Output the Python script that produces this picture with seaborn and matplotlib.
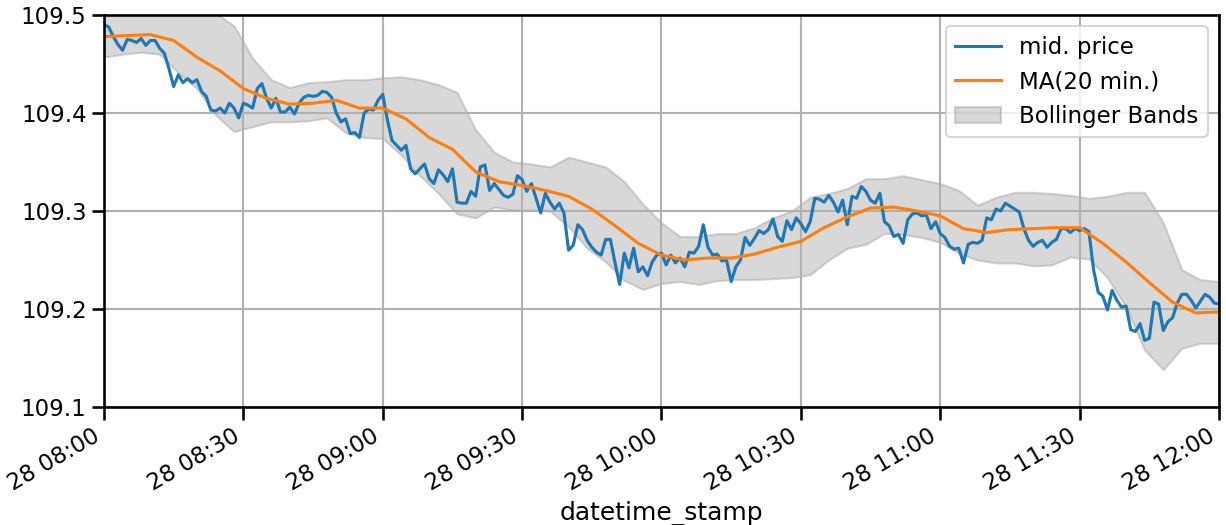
import numpy as np
import pandas as pd
import matplotlib
matplotlib.use("Agg")
import matplotlib.pyplot as plt
import matplotlib.dates as mdates
import seaborn as sns

# ---- data (1-minute mid prices) ----
start = "2020-02-28 08:00"

mid_price = [
    109.490, 109.488, 109.478, 109.470, 109.464, 109.475, 109.474, 109.472, 109.476, 109.469,
    109.474, 109.474, 109.466, 109.461, 109.445, 109.427, 109.439, 109.431, 109.435, 109.431,
    109.434, 109.422, 109.417, 109.403, 109.402, 109.405, 109.400, 109.410, 109.405, 109.395,
    109.410, 109.408, 109.405, 109.425, 109.430, 109.415, 109.405, 109.415, 109.401, 109.401,
    109.406, 109.399, 109.410, 109.416, 109.418, 109.417, 109.418, 109.422, 109.421, 109.416,
    109.400, 109.391, 109.394, 109.379, 109.380, 109.375, 109.400, 109.404, 109.403, 109.413,
    109.419, 109.393, 109.372, 109.367, 109.362, 109.367, 109.343, 109.338, 109.343, 109.348,
    109.333, 109.328, 109.342, 109.337, 109.330, 109.343, 109.309, 109.308, 109.308, 109.320,
    109.315, 109.345, 109.347, 109.321, 109.328, 109.322, 109.316, 109.314, 109.317, 109.336,
    109.332, 109.320, 109.328, 109.313, 109.298, 109.318, 109.309, 109.302, 109.308, 109.298,
    109.260, 109.265, 109.286, 109.281, 109.270, 109.263, 109.258, 109.255, 109.271, 109.271,
    109.247, 109.225, 109.257, 109.242, 109.262, 109.238, 109.243, 109.234, 109.248, 109.255,
    109.257, 109.245, 109.255, 109.247, 109.252, 109.243, 109.258, 109.257, 109.264, 109.286,
    109.263, 109.255, 109.256, 109.249, 109.250, 109.228, 109.243, 109.250, 109.273, 109.265,
    109.272, 109.280, 109.277, 109.281, 109.292, 109.274, 109.269, 109.290, 109.281, 109.293,
    109.287, 109.279, 109.289, 109.313, 109.312, 109.309, 109.316, 109.309, 109.299, 109.311,
    109.286, 109.315, 109.313, 109.325, 109.320, 109.311, 109.308, 109.318, 109.289, 109.285,
    109.274, 109.276, 109.267, 109.291, 109.297, 109.298, 109.295, 109.296, 109.282, 109.289,
    109.277, 109.273, 109.264, 109.261, 109.262, 109.247, 109.266, 109.268, 109.267, 109.270,
    109.293, 109.291, 109.302, 109.300, 109.308, 109.305, 109.302, 109.299, 109.282, 109.270,
    109.264, 109.268, 109.270, 109.263, 109.268, 109.271, 109.282, 109.282, 109.278, 109.282,
    109.280, 109.282, 109.279, 109.240, 109.217, 109.213, 109.199, 109.219, 109.209, 109.202,
    109.203, 109.179, 109.177, 109.185, 109.168, 109.170, 109.207, 109.205, 109.178, 109.187,
    109.191, 109.206, 109.215, 109.215, 109.209, 109.201, 109.208, 109.215, 109.212, 109.206,
    109.205,
]

# 20-min moving average, read every 5 minutes
ma_20 = [
    109.478, 109.479, 109.480, 109.474, 109.457, 109.443, 109.425, 109.415, 109.409, 109.410,
    109.413, 109.405, 109.405, 109.394, 109.375, 109.363, 109.340, 109.330, 109.326, 109.321,
    109.315, 109.302, 109.285, 109.267, 109.255, 109.250, 109.252, 109.252, 109.256, 109.263,
    109.269, 109.283, 109.294, 109.303, 109.304, 109.300, 109.295, 109.282, 109.278, 109.281,
    109.282, 109.283, 109.283, 109.267, 109.248, 109.227, 109.207, 109.196, 109.197,
]

# Bollinger bands, read every 4 minutes
bb_upper = [
    109.510, 109.510, 109.512, 109.512, 109.510, 109.508, 109.502, 109.489, 109.456, 109.434,
    109.426, 109.431, 109.432, 109.434, 109.434, 109.436, 109.437, 109.434, 109.429, 109.421,
    109.383, 109.360, 109.350, 109.348, 109.345, 109.355, 109.350, 109.345, 109.330, 109.307,
    109.288, 109.274, 109.274, 109.277, 109.277, 109.283, 109.293, 109.300, 109.314, 109.318,
    109.323, 109.333, 109.333, 109.336, 109.332, 109.328, 109.321, 109.306, 109.314, 109.319,
    109.319, 109.318, 109.316, 109.313, 109.315, 109.319, 109.319, 109.288, 109.240, 109.230,
    109.228,
]
bb_lower = [
    109.457, 109.460, 109.462, 109.460, 109.441, 109.425, 109.398, 109.381, 109.386, 109.391,
    109.391, 109.392, 109.395, 109.380, 109.375, 109.374, 109.357, 109.336, 109.318, 109.297,
    109.293, 109.304, 109.301, 109.301, 109.300, 109.284, 109.262, 109.248, 109.229, 109.220,
    109.226, 109.228, 109.225, 109.229, 109.230, 109.230, 109.231, 109.232, 109.235, 109.250,
    109.262, 109.266, 109.277, 109.276, 109.273, 109.268, 109.257, 109.250, 109.247, 109.247,
    109.244, 109.245, 109.253, 109.251, 109.232, 109.202, 109.158, 109.138, 109.160, 109.165,
    109.165,
]

price_df = pd.DataFrame({
    "datetime_stamp": pd.date_range(start, periods=len(mid_price), freq="1min"),
    "mid": mid_price,
})
ma_df = pd.DataFrame({
    "datetime_stamp": pd.date_range(start, periods=len(ma_20), freq="5min"),
    "ma": ma_20,
})
bb_df = pd.DataFrame({
    "datetime_stamp": pd.date_range(start, periods=len(bb_upper), freq="4min"),
    "upper": bb_upper,
    "lower": bb_lower,
})

sns.set_context("talk")

fig, ax = plt.subplots(figsize=(12.26, 5.25), dpi=100)
fig.subplots_adjust(left=0.0848, right=0.9943, top=0.9714, bottom=0.2248)

sns.lineplot(data=price_df, x="datetime_stamp", y="mid", ax=ax,
             color="#1f77b4", label="mid. price")
sns.lineplot(data=ma_df, x="datetime_stamp", y="ma", ax=ax,
             color="#ff7f0e", label="MA(20 min.)")
ax.fill_between(bb_df["datetime_stamp"], bb_df["lower"], bb_df["upper"],
                color="gray", alpha=0.3, label="Bollinger Bands", zorder=1)

ax.set_xlim(pd.Timestamp(start), pd.Timestamp("2020-02-28 12:00"))
ax.set_ylim(109.1, 109.5)
ax.set_yticks([109.1, 109.2, 109.3, 109.4, 109.5])
ax.xaxis.set_major_locator(mdates.MinuteLocator(byminute=[0, 30]))
ax.xaxis.set_major_formatter(mdates.DateFormatter("%d %H:%M"))
plt.setp(ax.get_xticklabels(), rotation=30, ha="right")
ax.set_xlabel("datetime_stamp")
ax.set_ylabel("")
ax.grid(True, color="#b0b0b0")
ax.legend(loc="upper right")

fig.savefig("out.png", dpi=100)
